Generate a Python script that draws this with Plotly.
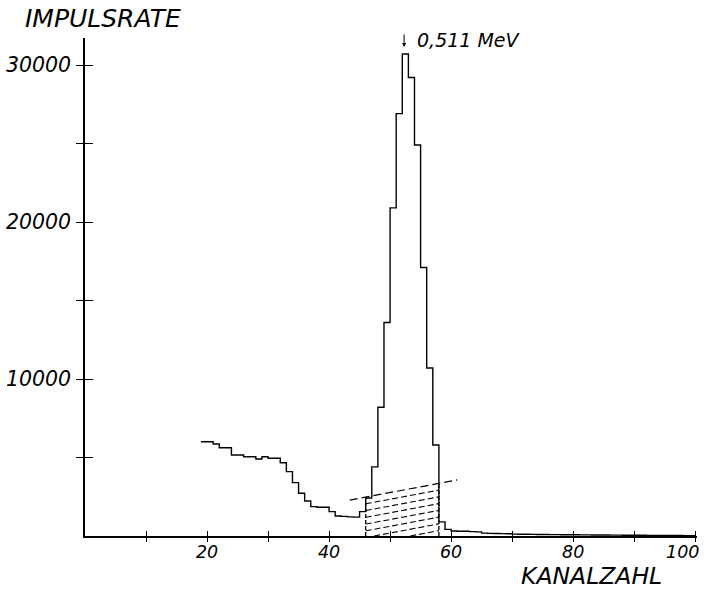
import plotly.graph_objects as go

# ---------------- data ----------------
channels = list(range(19, 100))
counts = [
    6000, 6000, 5860, 5620, 5620, 5160, 5160, 5050, 5050, 4900,   # 19-28
    5050, 4950, 4950, 4670, 4100, 3400, 2720, 2230, 1870, 1830,   # 29-38
    1830, 1550, 1270, 1250, 1220, 1200, 1550, 2420, 4400, 8200,   # 39-48
    13600, 20900, 26900, 30700, 29200, 24900, 17100, 10700, 5800, 900,  # 49-58
    420, 320, 300, 300, 280, 260, 180, 170, 160, 150,             # 59-68
    140, 120, 115, 110, 105, 100, 95, 90, 85, 80,                 # 69-78
    80, 75, 70, 70, 65, 60, 60, 55, 55, 50,                       # 79-88
    50, 45, 45, 40, 40, 35, 35, 30, 30, 25,                       # 89-98
    20,                                                           # 99
]
bg_x = [43.4, 61.0]          # background (Untergrund) line, channel
bg_y = [2290, 3570]          # background line, counts
hatch_channels = [46, 58]    # integration window under the peak
peak_channel = 52.3
peak_label = "0,511 MeV"
x_tickvals = [10, 20, 30, 40, 50, 60, 70, 80, 90, 100]
x_ticktext = ["", "20", "", "40", "", "60", "", "80", "", ""]
x_last_label = "100"
y_tickvals = [5000, 10000, 15000, 20000, 25000, 30000]
y_ticktext = ["", "10000", "", "20000", "", "30000"]
x_title = "KANALZAHL"
y_title = "IMPULSRATE"

FONT = "DejaVu Sans"
X_RANGE = [0, 100.3]
Y_RANGE = [0, 31720]

fig = go.Figure()

# ---- hatching of the window (lines parallel to the background line) ----
slope = (bg_y[1] - bg_y[0]) / (bg_x[1] - bg_x[0])


def bg(x):
    return bg_y[0] + slope * (x - bg_x[0])


spacing = 430
k = 1
while bg(hatch_channels[1]) - k * spacing > 0:
    off = k * spacing
    x0 = hatch_channels[0]
    if bg(x0) - off < 0:
        x0 = bg_x[0] + (off - bg_y[0]) / slope
    x1 = hatch_channels[1]
    fig.add_trace(go.Scatter(
        x=[x0, x1], y=[bg(x0) - off, bg(x1) - off], mode="lines",
        line=dict(color="black", width=1.1, dash="6px,3px"),
        hoverinfo="skip", showlegend=False))
    k += 1

# vertical borders of the window
for xc in hatch_channels:
    fig.add_trace(go.Scatter(
        x=[xc, xc], y=[0, bg(xc)], mode="lines",
        line=dict(color="black", width=1.3, dash="4px,2px"),
        hoverinfo="skip", showlegend=False))

# background line
fig.add_trace(go.Scatter(
    x=bg_x, y=bg_y, mode="lines",
    line=dict(color="black", width=1.2, dash="8px,4px"),
    hoverinfo="skip", showlegend=False))

# ---- histogram ----
fig.add_trace(go.Scatter(
    x=channels + [channels[-1] + 1], y=counts + [counts[-1]],
    mode="lines", line=dict(color="black", width=1.4, shape="hv"),
    hoverinfo="skip", showlegend=False))

# dummy trace to activate the overlay axes (outer tick halves)
fig.add_trace(go.Scatter(x=[50], y=[0], xaxis="x2", yaxis="y2", mode="markers",
                         marker=dict(opacity=0), hoverinfo="skip", showlegend=False))

tick_font_x = dict(family=FONT, size=17.5, color="black", style="italic")
tick_font_y = dict(family=FONT, size=20.5, color="black", style="italic")

fig.update_layout(
    width=704, height=592,
    margin=dict(l=85, r=7, t=38, b=56, autoexpand=False),
    paper_bgcolor="white", plot_bgcolor="white",
    showlegend=False,
    xaxis=dict(range=X_RANGE, showline=True, linecolor="black", linewidth=1.5,
               ticks="inside", ticklen=5, tickwidth=1.3, tickcolor="black",
               tickvals=x_tickvals, ticktext=x_ticktext, tickfont=tick_font_x,
               showgrid=False, zeroline=False, ticklabelstandoff=-1,
               automargin=False),
    yaxis=dict(range=Y_RANGE, showline=True, linecolor="black", linewidth=1.5,
               ticks="inside", ticklen=8, tickwidth=1.3, tickcolor="black",
               tickvals=y_tickvals, ticktext=y_ticktext, tickfont=tick_font_y,
               showgrid=False, zeroline=False, ticklabelstandoff=8,
               automargin=False),
    xaxis2=dict(range=X_RANGE, overlaying="x", anchor="y2", side="bottom",
                ticks="outside", ticklen=5, tickwidth=1.3, tickcolor="black",
                tickvals=x_tickvals, showticklabels=False, showline=False,
                showgrid=False, zeroline=False, automargin=False),
    yaxis2=dict(range=Y_RANGE, overlaying="y", anchor="x2", side="left",
                ticks="outside", ticklen=8, tickwidth=1.3, tickcolor="black",
                tickvals=y_tickvals, showticklabels=False, showline=False,
                showgrid=False, zeroline=False, automargin=False),
)

annotations = [
    dict(x=peak_channel, y=0.982, xref="x", yref="paper", ax=0, ay=-14,
         showarrow=True, arrowhead=2, arrowsize=0.8, arrowwidth=1,
         arrowcolor="black", text=""),
    dict(x=54.1, y=0.996, xref="x", yref="paper", xanchor="left", yanchor="middle",
         text=peak_label, showarrow=False,
         font=dict(family=FONT, size=19, color="black", style="italic")),
    dict(x=x_tickvals[-1], y=0, xref="x", yref="paper", xanchor="right",
         yanchor="top", xshift=6, yshift=-4, text=x_last_label, showarrow=False,
         font=tick_font_x),
    dict(x=-0.101, y=1.040, xref="paper", yref="paper", xanchor="left",
         yanchor="middle", text=y_title, showarrow=False,
         font=dict(family=FONT, size=25, color="black", style="italic")),
    dict(x=0.709, y=-0.1118, xref="paper", yref="paper", xanchor="left",
         yanchor="bottom", text=x_title, showarrow=False,
         font=dict(family=FONT, size=23.5, color="black", style="italic")),
]
fig.update_layout(annotations=annotations)

# remove the default 8px page margin so the 704x592 figure fills the window
fig.write_html(
    "out.html",
    config={"displayModeBar": False},
    post_script="document.body.style.margin='0px';"
                "document.body.style.overflow='hidden';",
)
